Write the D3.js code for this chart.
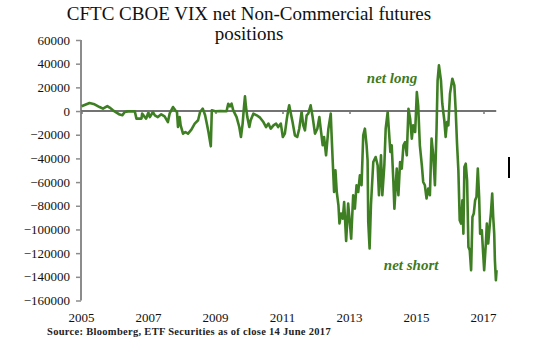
<!DOCTYPE html>
<html><head><meta charset="utf-8">
<script src="https://cdn.jsdelivr.net/npm/d3@7"></script>
<style>html,body{margin:0;padding:0;background:#fff;}svg{display:block;}</style>
</head><body>
<script>
// Decimal year of each observation
const dates = [2005.00,2005.24,2005.39,2005.54,2005.64,2005.77,2005.84,2005.94,2006.07,2006.14,2006.22,2006.29,2006.39,2006.59,2006.64,2006.79,2006.81,2006.89,2006.93,2006.99,2007.04,2007.13,2007.19,2007.28,2007.38,2007.48,2007.58,2007.63,2007.73,2007.80,2007.85,2007.88,2007.93,2007.96,2008.03,2008.10,2008.18,2008.28,2008.38,2008.48,
2008.54,2008.62,2008.69,2008.74,2008.79,2008.86,2008.89,2008.99,2009.15,2009.33,2009.38,2009.43,2009.48,2009.53,2009.63,2009.71,2009.76,2009.81,2009.85,2009.88,2009.91,2009.95,2010.01,2010.05,2010.13,2010.23,2010.33,2010.43,2010.51,2010.58,2010.65,2010.73,2010.81,2010.87,2010.95,2011.01,2011.07,2011.13,2011.17,2011.20,
2011.25,2011.30,2011.37,2011.44,2011.50,2011.57,2011.62,2011.67,2011.72,2011.77,2011.84,2011.90,2011.97,2012.04,2012.10,2012.14,2012.20,2012.24,2012.30,2012.37,2012.44,2012.47,2012.50,2012.54,2012.58,2012.62,2012.67,2012.70,2012.75,2012.80,2012.84,2012.90,2012.96,2012.99,2013.05,2013.11,2013.16,2013.21,2013.26,2013.31,2013.36,2013.41,2013.46,2013.51,2013.54,2013.56,2013.60,2013.64,2013.71,2013.78,2013.84,2013.88,2013.94,2013.98,
2014.04,2014.08,2014.14,2014.18,2014.22,2014.26,2014.31,2014.34,2014.41,2014.46,2014.51,2014.56,2014.61,2014.66,2014.71,2014.76,2014.81,2014.86,2014.90,2014.96,2015.01,2015.05,2015.10,2015.16,2015.20,2015.25,2015.30,2015.35,2015.40,2015.45,2015.50,2015.55,2015.60,2015.63,2015.67,2015.73,2015.77,2015.83,2015.87,2015.91,2015.95,
2016.00,2016.07,2016.13,2016.17,2016.21,2016.25,2016.29,2016.33,2016.37,2016.40,2016.43,2016.47,2016.51,2016.55,2016.59,2016.63,2016.67,2016.71,2016.75,2016.79,2016.83,2016.87,2016.90,2016.95,2016.99,2017.02,2017.07,2017.10,2017.14,2017.19,2017.22,2017.26,2017.29,2017.32,2017.34,2017.37,2017.39];

// Net non-commercial positions (contracts)
const netPositions = [4000,6800,5700,3400,2000,4200,2900,600,-1700,-3000,-3600,-800,-300,-200,-6400,-6400,-2200,-5100,-6400,-1700,-5100,-800,-3600,-5100,-2800,-4500,-9300,-2200,3400,600,-800,-13500,-5100,-12100,-19100,-17700,-19100,-15700,-10600,-7800,
-800,2000,-3600,-10600,-17700,-29800,600,-200,0,-200,6200,4000,6200,600,-5100,-13500,-21900,-10600,3400,12400,3400,-5100,-13500,-7800,-2200,-3600,-5600,-9300,-13500,-10600,-14900,-12100,-10600,-13500,-10600,-21900,-19100,-6400,600,4800,
-2200,-9300,-20500,-21900,-14900,-800,-12100,-16300,-3600,-2200,4800,-5100,-19100,-14900,-5100,-14900,-28900,-21900,-37400,-14900,-2200,-23300,-43000,-68400,-50000,-68400,-79600,-95000,-86600,-90800,-76800,-109700,-78200,-88000,-107700,-71100,-82400,-62700,-68400,-54300,-62700,-20500,-14900,-28900,-41600,-93700,-116100,-79600,-43000,-38800,-45800,-71100,-37400,-71100,
-45800,-14900,-800,-17700,-34600,-28900,-59900,-82400,-48600,-71100,-43000,-48600,-28900,-26200,-37400,2000,-6400,-23300,-12100,-17700,16000,4800,-28900,-45800,-59900,-62700,-73900,-65500,-71100,-23300,-37400,-62700,-13500,25900,38600,25900,6200,-7800,-21900,-9300,-12100,
14700,27300,21700,600,-27500,-50000,-92200,-95000,-75400,-103500,-47300,-44400,-58500,-114800,-117600,-134400,-89500,-86600,-75400,-72600,-48600,-72600,-103500,-100700,-120400,-134400,-111900,-95000,-111900,-95000,-86600,-69700,-89500,-103500,-126000,-142900,-134400];

const yTicks = [60000,40000,20000,0,-20000,-40000,-60000,-80000,-100000,-120000,-140000,-160000];
const xTickYears = [2005,2007,2009,2011,2013,2015,2017];
const titleLines = ["CFTC CBOE VIX net Non-Commercial futures","positions"];
const sourceText = "Source: Bloomberg, ETF Securities as of close 14 June 2017";
const annotations = [{text:"net long", year:2014.27, value:24000},{text:"net short", year:2014.84, value:-134000}];

const W = 544, H = 355;
const svg = d3.select("body").append("svg").attr("width", W).attr("height", H);

const x = d3.scaleLinear().domain([2005, 2017]).range([81.5, 483.5]);
const y = d3.scaleLinear().domain([-160000, 60000]).range([300.5, 40]);

const serif = "'Liberation Serif', 'DejaVu Serif', serif";

// Title
svg.append("g").selectAll("text").data(titleLines).join("text")
  .attr("x", 249).attr("y", (d, i) => 20 + i * 19.5)
  .attr("text-anchor", "middle")
  .attr("font-family", serif).attr("font-size", 19).attr("fill", "#111")
  .text(d => d);

// Y axis
const yAxis = svg.append("g").attr("transform", `translate(${x(2005) - 0.5},0)`)
  .call(d3.axisLeft(y).tickValues(yTicks).tickSize(5).tickPadding(6).tickFormat(d3.format("d")));
yAxis.select(".domain").attr("stroke", "#8c8c8c").attr("stroke-width", 2).attr("d", `M0,${y(60000)}V${y(-160000)}`);
yAxis.selectAll(".tick line").attr("stroke", "#8c8c8c").attr("stroke-width", 1.5);
yAxis.selectAll(".tick text").attr("font-family", serif).attr("font-size", 13).attr("fill", "#111");

// X axis along zero
const xAxis = svg.append("g").attr("transform", `translate(0,${y(0)})`)
  .call(d3.axisBottom(x).tickValues(xTickYears).tickSize(3).tickFormat(""));
xAxis.select(".domain").attr("stroke", "#444").attr("stroke-width", 1.5).attr("d", `M${x(2005)},0H${x(2017.38)}`);
xAxis.selectAll(".tick line").attr("stroke", "#777").attr("stroke-width", 1.5);

// X labels at bottom
svg.append("g").selectAll("text").data(xTickYears).join("text")
  .attr("x", d => x(d)).attr("y", 322)
  .attr("text-anchor", "middle")
  .attr("font-family", serif).attr("font-size", 13).attr("fill", "#111")
  .text(d => d);

// Line
const line = d3.line().x((d, i) => x(dates[i])).y(d => y(d));
svg.append("path").datum(netPositions)
  .attr("fill", "none").attr("stroke", "#3f7f23").attr("stroke-width", 2.6)
  .attr("stroke-linejoin", "round").attr("d", line);

// Annotations
svg.append("g").selectAll("text").data(annotations).join("text")
  .attr("x", d => x(d.year)).attr("y", d => y(d.value))
  .attr("text-anchor", "middle")
  .attr("font-family", serif).attr("font-style", "italic").attr("font-weight", "bold")
  .attr("font-size", 15).attr("fill", "#3f7a1c")
  .text(d => d.text);

// Source
svg.append("text").attr("x", 47).attr("y", 335)
  .attr("font-family", serif).attr("font-weight", "bold").attr("font-size", 10.5)
  .attr("letter-spacing", 0.3).attr("fill", "#222")
  .text(sourceText);

// stray cursor mark on the right
svg.append("line").attr("x1", 509).attr("x2", 509).attr("y1", 157).attr("y2", 178)
  .attr("stroke", "#000").attr("stroke-width", 2);
</script>
</body></html>
